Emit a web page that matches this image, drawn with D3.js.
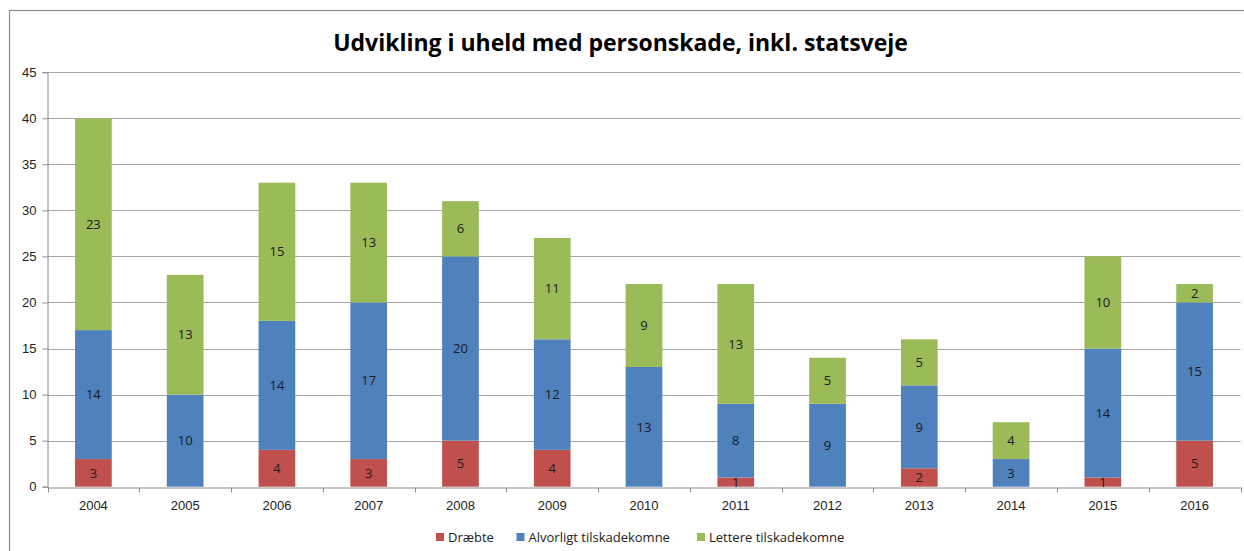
<!DOCTYPE html>
<html>
<head>
<meta charset="utf-8">
<script src="https://cdn.jsdelivr.net/npm/d3@7"></script>
<style>
  body { margin: 0; background: #fff; }
  svg { font-family: "Open Sans", "Noto Sans", sans-serif; }
</style>
</head>
<body>
<svg id="chart"></svg>
<script>
// data
let years = ["2004","2005","2006","2007","2008","2009","2010","2011","2012","2013","2014","2015","2016"]
let draebte = [3,0,4,3,5,4,0,1,0,2,0,1,5]
let alvorligt = [14,10,14,17,20,12,13,8,9,9,3,14,15]
let lettere = [23,13,15,13,6,11,9,13,5,5,4,10,2]
let seriesNames = ["Dræbte", "Alvorligt tilskadekomne", "Lettere tilskadekomne"]
let colors = ["#C0504D", "#4F81BD", "#9BBB59"]
let yTicks = [0,5,10,15,20,25,30,35,40,45]

let width = 1244, height = 551
let svg = d3.select("#chart").attr("width", width).attr("height", height)

// outer frame
svg.append("rect")
    .attr("x", 9.5).attr("y", 10.5)
    .attr("width", 1300).attr("height", 600)
    .attr("fill", "none")
    .attr("stroke", "#8c8c8c")
    .attr("stroke-width", 1.2)

let plot = {left: 47.5, right: 1240.5, top: 72.2, bottom: 486.7}

let x = d3.scaleBand()
    .domain(years)
    .range([plot.left, plot.right])
    .paddingInner(0.6)
    .paddingOuter(0.3)

let y = d3.scaleLinear()
    .domain([0, 45])
    .range([plot.bottom, plot.top])

// gridlines
svg.append("g")
    .selectAll("line")
    .data(yTicks.filter(d => d > 0))
    .enter().append("line")
    .attr("x1", plot.left).attr("x2", plot.right)
    .attr("y1", d => Math.round(y(d)) + 0.5).attr("y2", d => Math.round(y(d)) + 0.5)
    .attr("stroke", "#a6a6a6")

// y axis
let yAxis = svg.append("g")
    .attr("transform", "translate(" + plot.left + ",0)")
    .call(d3.axisLeft(y).tickValues(yTicks).tickSize(5).tickPadding(6))
yAxis.select(".domain").attr("stroke", "#8c8c8c")
yAxis.selectAll(".tick line").attr("stroke", "#8c8c8c")
yAxis.selectAll("text").attr("font-size", "13px").attr("fill", "#222")

// stacked bars
let rows = years.map((yr, i) => ({year: yr, d: draebte[i], a: alvorligt[i], l: lettere[i]}))
let stack = d3.stack().keys(["d", "a", "l"])(rows)

let layers = svg.append("g").selectAll("g")
    .data(stack)
    .enter().append("g")
    .attr("fill", (s, i) => colors[i])

layers.selectAll("rect")
    .data(s => s)
    .enter().append("rect")
    .attr("x", d => x(d.data.year))
    .attr("width", x.bandwidth())
    .attr("y", d => y(d[1]))
    .attr("height", d => y(d[0]) - y(d[1]))

layers.selectAll("text")
    .data(s => s.filter(d => d[1] - d[0] > 0))
    .enter().append("text")
    .attr("x", d => x(d.data.year) + x.bandwidth() / 2)
    .attr("y", d => (y(d[0]) + y(d[1])) / 2)
    .attr("dy", "0.36em")
    .attr("text-anchor", "middle")
    .attr("font-size", "13px")
    .attr("fill", "#1a1a1a")
    .text(d => d[1] - d[0])

// x axis
let xAxis = svg.append("g")
    .attr("transform", "translate(0," + (Math.round(plot.bottom) + 0.5) + ")")
    .call(d3.axisBottom(x).tickSize(0).tickPadding(13))
xAxis.select(".domain").attr("stroke", "#8c8c8c")
xAxis.selectAll("text").attr("font-size", "13px").attr("fill", "#222")

// tick marks between categories
let bounds = d3.range(years.length + 1).map(i => plot.left + i * (plot.right - plot.left) / years.length)
xAxis.selectAll(".bound")
    .data(bounds)
    .enter().append("line")
    .attr("x1", d => Math.round(d) + 0.5).attr("x2", d => Math.round(d) + 0.5)
    .attr("y1", 0).attr("y2", 5)
    .attr("stroke", "#8c8c8c")

// title
let title = svg.append("text")
    .attr("x", 620.5)
    .attr("y", 51)
    .attr("text-anchor", "middle")
    .attr("font-weight", "bold")
    .attr("font-size", "22px")
    .attr("fill", "#000")
    .text("Udvikling i uheld med personskade, inkl. statsveje")
let tw = title.node().getComputedTextLength()
title.attr("font-size", (22 * 575 / tw) + "px")

// legend
let legendX = [436, 516.5, 697]
let legend = svg.append("g").selectAll("g")
    .data(seriesNames)
    .enter().append("g")
    .attr("transform", (d, i) => "translate(" + legendX[i] + ",537)")
legend.append("rect")
    .attr("x", 0).attr("y", -4)
    .attr("width", 8).attr("height", 8)
    .attr("fill", (d, i) => colors[i])
legend.append("text")
    .attr("x", 12)
    .attr("dy", "0.36em")
    .attr("font-size", "13px")
    .attr("fill", "#222")
    .text(d => d)
</script>
</body>
</html>
